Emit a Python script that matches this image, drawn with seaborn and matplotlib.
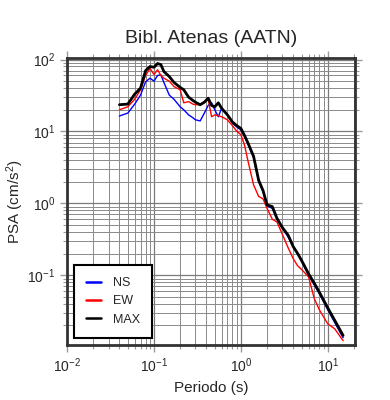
import numpy as np
import pandas as pd
import matplotlib
matplotlib.use("Agg")
import matplotlib.pyplot as plt
import matplotlib.ticker as mticker
import seaborn as sns

# Datos (espectro de respuesta, PSA en cm/s2)
periodo = [0.04, 0.05, 0.06, 0.07, 0.08, 0.09, 0.10, 0.11, 0.12, 0.13,
           0.15, 0.17, 0.20, 0.22, 0.25, 0.28, 0.30, 0.34, 0.38, 0.42,
           0.46, 0.50, 0.55, 0.60, 0.70, 0.80, 0.90, 1.0, 1.1, 1.2,
           1.4, 1.6, 1.8, 2.0, 2.3, 2.6, 3.0, 3.5, 4.0, 4.5,
           5.0, 6.0, 7.0, 8.0, 10.0, 12.0, 15.0]

psa_ns = [16.4, 18, 24, 32, 49, 55, 50, 60, 61, 48,
          32, 28, 22, 20, 17, 15.5, 14.5, 14, 18, 23,
          25, 20, 16, 21, 17, 13, 11.5, 10.5, 8.5, 6.8,
          4.3, 2.0, 1.45, 0.92, 0.85, 0.6, 0.45, 0.34, 0.25, 0.2,
          0.155, 0.1, 0.073, 0.055, 0.033, 0.022, 0.0135]

psa_ew = [20, 22, 28, 38, 60, 75, 62, 72, 60, 55,
          50, 42, 38, 25, 26, 24, 23.5, 23.5, 26, 28,
          16, 17, 16.5, 16, 14.5, 12, 10, 9, 6.5, 4.0,
          1.8, 1.25, 1.15, 0.85, 0.6, 0.55, 0.37, 0.24, 0.17, 0.135,
          0.12, 0.095, 0.047, 0.033, 0.021, 0.018, 0.0123]

psa_max = [23.5, 24, 33, 40, 70, 80, 78, 88, 85, 68,
           58, 48, 41, 38, 30, 27, 25.5, 23.5, 25.5, 29,
           23, 22, 25, 21, 17, 13.5, 12, 11, 8.8, 7,
           4.5, 2.1, 1.5, 0.95, 0.9, 0.62, 0.46, 0.36, 0.25, 0.2,
           0.16, 0.105, 0.077, 0.058, 0.035, 0.0236, 0.0145]

df = pd.DataFrame({"Periodo": periodo, "NS": psa_ns, "EW": psa_ew, "MAX": psa_max})
df_long = df.melt(id_vars="Periodo", var_name="Comp", value_name="PSA")

sns.set_style("ticks")
plt.rcParams["font.family"] = ["Liberation Sans", "DejaVu Sans"]
plt.rcParams["mathtext.fontset"] = "custom"
plt.rcParams["mathtext.rm"] = "Liberation Sans"
plt.rcParams["mathtext.it"] = "Liberation Sans"

fig = plt.figure(figsize=(3.9, 4.0), dpi=100)
ax = fig.add_axes([0.172, 0.1375, 0.738, 0.7175])

colores = {"NS": "#0000ff", "EW": "#ff0000", "MAX": "#000000"}
grosor = {"NS": 1.0, "EW": 1.0, "MAX": 2.0}
for comp in ["NS", "EW", "MAX"]:
    sns.lineplot(data=df_long[df_long["Comp"] == comp], x="Periodo", y="PSA",
                 color=colores[comp], linewidth=grosor[comp], label=comp,
                 ax=ax, zorder=3)

ax.set_xscale("log")
ax.set_yscale("log")
ax.set_xlim(0.01, 20.5)
ax.set_ylim(0.0107, 105)

ax.xaxis.set_major_locator(mticker.LogLocator(base=10, numticks=10))
ax.yaxis.set_major_locator(mticker.LogLocator(base=10, numticks=10))
ax.xaxis.set_minor_locator(mticker.LogLocator(base=10, subs=np.arange(2, 10), numticks=20))
ax.yaxis.set_minor_locator(mticker.LogLocator(base=10, subs=np.arange(2, 10), numticks=20))
ax.xaxis.set_minor_formatter(mticker.NullFormatter())
ax.yaxis.set_minor_formatter(mticker.NullFormatter())

# Grilla mayor y menor
ax.grid(which="major", color="#7a7a7a", linewidth=0.9)
ax.grid(which="minor", color="#8a8a8a", linewidth=0.7)
ax.set_axisbelow(True)

ax.tick_params(which="both", direction="out", top=True, right=True,
               color="#9a9a9a", labelsize=10)
ax.tick_params(which="major", length=5, width=1)
ax.tick_params(which="minor", length=3, width=0.8)

for s in ax.spines.values():
    s.set_color("#333333")
    s.set_linewidth(2)

ax.set_xlabel("Periodo (s)", fontsize=11, labelpad=4)
ax.set_ylabel("PSA (cm/s$^2$)", fontsize=11, labelpad=1)
ax.set_title("Bibl. Atenas (AATN)", fontsize=14, pad=11)

leg = ax.legend(loc="lower left", bbox_to_anchor=(0.024, 0.024), borderaxespad=0,
                fontsize=9, handlelength=1.2, handletextpad=0.9,
                labelspacing=0.5, borderpad=1.0, fancybox=False,
                framealpha=1, edgecolor="black", facecolor="white")
leg.get_frame().set_linewidth(1.5)
for line in leg.get_lines():
    line.set_linewidth(1.8)

fig.savefig("out.png", dpi=100)
